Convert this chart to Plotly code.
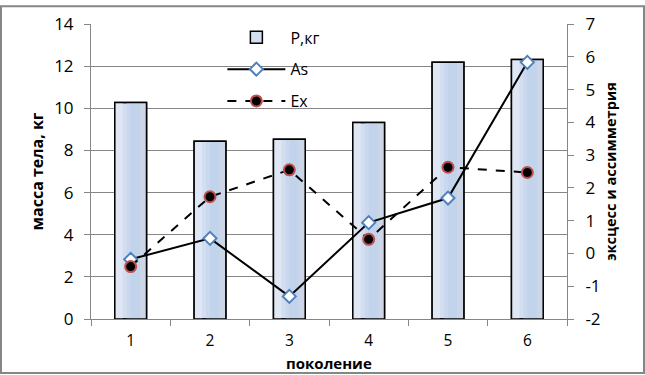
import plotly.graph_objects as go

generations = ["1", "2", "3", "4", "5", "6"]
mass_kg = [10.28, 8.43, 8.53, 9.32, 12.19, 12.31]
asym = [-0.18, 0.46, -1.31, 0.94, 1.69, 5.83]
excess = [-0.40, 1.73, 2.55, 0.43, 2.63, 2.47]

left_ticks = [0, 2, 4, 6, 8, 10, 12, 14]
right_ticks = [-2, -1, 0, 1, 2, 3, 4, 5, 6, 7]

FONT = "Open Sans"
GRID = "#868686"
BAR_W = 0.4

fig = go.Figure()
# base bar (legend entry)
fig.add_trace(go.Bar(
    x=generations, y=mass_kg, name="Р,кг", width=BAR_W,
    marker=dict(color="#d3def1", line=dict(color="black", width=1.5)),
    legendgroup="a", yaxis="y",
))
# gradient slices (style only)
slices = [(-0.05, 0.20, "#c9d8ef"), (0.0, 0.12, "#c2d3ec"), (0.12, 0.08, "#cdd6e6")]
for off, w, col in slices:
    fig.add_trace(go.Bar(
        x=generations, y=mass_kg, width=w, offset=off, showlegend=False,
        marker=dict(color=col, line=dict(width=0)), hoverinfo="skip", yaxis="y",
    ))
fig.add_trace(go.Bar(
    x=generations, y=mass_kg, width=0.1, offset=-BAR_W / 2, showlegend=False,
    marker=dict(color="#dfe7f4", line=dict(width=0)), hoverinfo="skip", yaxis="y",
))
# outline on top
fig.add_trace(go.Bar(
    x=generations, y=mass_kg, width=BAR_W, showlegend=False,
    marker=dict(color="rgba(0,0,0,0)", line=dict(color="black", width=1.5)),
    hoverinfo="skip", yaxis="y",
))
fig.add_trace(go.Scatter(
    x=generations, y=asym, name="As", mode="lines+markers",
    line=dict(color="black", width=2),
    marker=dict(symbol="diamond", size=10, color="white", line=dict(color="#4f81bd", width=2)),
    legendgroup="b", yaxis="y2",
))
fig.add_trace(go.Scatter(
    x=generations, y=excess, name="Ex", mode="lines+markers",
    line=dict(color="black", width=2, dash="dash"),
    marker=dict(symbol="circle", size=11, color="black", line=dict(color="#c0504d", width=2)),
    legendgroup="c", yaxis="y2",
))

fig.update_layout(
    width=645, height=375,
    margin=dict(l=91, r=78, t=19, b=56),
    paper_bgcolor="white", plot_bgcolor="white",
    font=dict(family=FONT, size=15, color="black"),
    barmode="overlay",
    showlegend=True,
    legend=dict(x=0.276, y=1.012, xanchor="left", yanchor="top",
                bgcolor="rgba(0,0,0,0)", font=dict(size=16),
                itemwidth=58, tracegroupgap=8, traceorder="grouped"),
    xaxis=dict(
        type="category", showline=True, linecolor=GRID, linewidth=1,
        ticks="outside", ticklen=6, tickcolor=GRID, tickson="boundaries",
        showgrid=False, ticklabelstandoff=7,
        tickfont=dict(size=15.5),
    ),
    yaxis=dict(
        range=[0, 14], tickvals=left_ticks, showgrid=True, gridcolor=GRID, gridwidth=1,
        showline=True, linecolor=GRID, ticks="outside", ticklen=6, tickcolor=GRID,
        ticklabelstandoff=7,
        title=dict(text="<b>масса тела, кг</b>", font=dict(size=16), standoff=6),
        tickfont=dict(size=17), zeroline=False,
    ),
    yaxis2=dict(
        range=[-2, 7], tickvals=right_ticks, ticktext=[str(t) for t in right_ticks],
        overlaying="y", side="right",
        showgrid=False, showline=True, linecolor=GRID, ticks="outside", ticklen=6,
        tickcolor=GRID, zeroline=False, ticklabelstandoff=8,
        title=dict(text="<b>эксцесс и ассимметрия</b>", font=dict(size=14.5), standoff=6),
        tickfont=dict(size=17),
    ),
    annotations=[dict(text="<b>поколение</b>", xref="paper", yref="paper", x=0.5, y=0,
                      xanchor="center", yanchor="top", yshift=-33, showarrow=False,
                      borderpad=0, font=dict(size=15))],
    shapes=[dict(type="rect", xref="paper", yref="paper",
                 x0=-90/476, x1=1+77/476, y0=-55/300, y1=1+18/300,
                 line=dict(color=GRID, width=2), fillcolor="rgba(0,0,0,0)", layer="below")],
)

fig.write_html("out.html", post_script="document.body.style.margin='0';",
               config={"displayModeBar": False})
